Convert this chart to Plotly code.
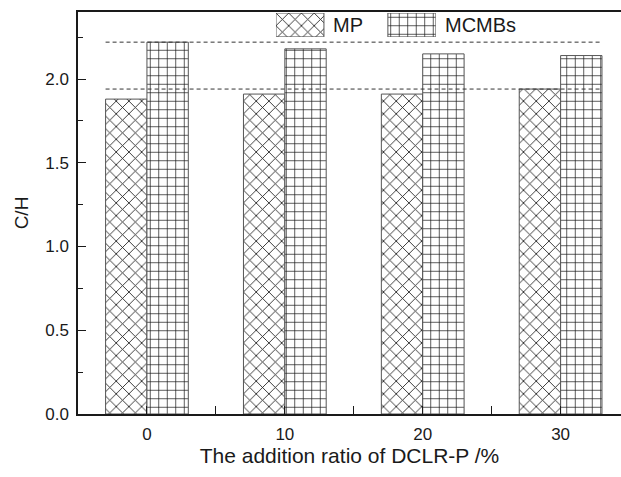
import plotly.graph_objects as go

# DCLR-P addition ratio (%) and C/H atomic ratios
ratios = [0, 10, 20, 30]
mp_ch = [1.88, 1.91, 1.91, 1.94]
mcmb_ch = [2.22, 2.18, 2.15, 2.14]
series_names = ["MP", "MCMBs"]

FONT = "Liberation Sans, Arial, sans-serif"
INK = "#1a1a1a"
EDGE = "#555555"
BAR_W = 0.3

pos = list(range(len(ratios)))

mp_pattern = dict(shape="x", size=9, solidity=0.18, fgcolor=INK, bgcolor="white", fillmode="replace")
mcmb_pattern = dict(shape="+", size=8.5, solidity=0.16, fgcolor=INK, bgcolor="white", fillmode="replace")

fig = go.Figure()
fig.add_trace(go.Bar(x=pos, y=mp_ch, name=series_names[0], width=BAR_W, offset=-BAR_W,
                     marker=dict(color="white", pattern=mp_pattern, line=dict(color=EDGE, width=1)),
                     showlegend=False))
fig.add_trace(go.Bar(x=pos, y=mcmb_ch, name=series_names[1], width=BAR_W, offset=0,
                     marker=dict(color="white", pattern=mcmb_pattern, line=dict(color=EDGE, width=1)),
                     showlegend=False))

# legend swatches on a small overlay axis
fig.add_trace(go.Bar(x=[0], y=[1], width=1, xaxis="x2", yaxis="y2", showlegend=False, hoverinfo="skip",
                     marker=dict(color="white", pattern=mp_pattern, line=dict(color=EDGE, width=1))))
fig.add_trace(go.Bar(x=[2.333], y=[1], width=1, xaxis="x2", yaxis="y2", showlegend=False, hoverinfo="skip",
                     marker=dict(color="white", pattern=mcmb_pattern, line=dict(color=EDGE, width=1))))

# dashed reference lines at the maximum of each series
x_left = pos[0] - BAR_W
x_right = pos[-1] + BAR_W
for level in (max(mcmb_ch), max(mp_ch)):
    fig.add_shape(type="line", xref="x", yref="y", x0=x_left, x1=x_right, y0=level, y1=level,
                  line=dict(color="#333333", width=1, dash="4px,3px"), layer="above")

fig.add_annotation(x=0.466, y=0.968, xref="paper", yref="paper", text=series_names[0], showarrow=False,
                   xanchor="left", yanchor="middle", font=dict(family=FONT, size=20, color=INK))
fig.add_annotation(x=0.672, y=0.968, xref="paper", yref="paper", text=series_names[1], showarrow=False,
                   xanchor="left", yanchor="middle", font=dict(family=FONT, size=20, color=INK))

fig.update_layout(
    width=621, height=477,
    margin=dict(l=78, r=0, t=12, b=63),
    paper_bgcolor="white", plot_bgcolor="white",
    font=dict(family=FONT, size=17, color=INK),
    showlegend=False,
    xaxis=dict(
        range=[-0.5, 3.438], tickvals=pos, ticktext=[str(r) for r in ratios],
        ticks="inside", ticklen=8, tickwidth=1, tickcolor=INK,
        minor=dict(tickvals=[0.5, 1.5, 2.5], ticks="inside", ticklen=8, tickcolor=INK),
        showline=True, linecolor=INK, linewidth=1.5, mirror=True,
        showgrid=False, zeroline=False,
        tickfont=dict(size=17), ticklabelstandoff=4,
        title=dict(text="The addition ratio of DCLR-P /%", font=dict(size=21), standoff=5),
    ),
    yaxis=dict(
        range=[0, 2.4], tickvals=[0, 0.5, 1.0, 1.5, 2.0], ticktext=["0.0", "0.5", "1.0", "1.5", "2.0"],
        ticks="inside", ticklen=8, tickwidth=1, tickcolor=INK,
        minor=dict(dtick=0.25, tick0=0, ticks="inside", ticklen=5, tickcolor=INK),
        showline=True, linecolor=INK, linewidth=1.5, mirror=False,
        showgrid=False, zeroline=False,
        tickfont=dict(size=17), ticklabelstandoff=4,
        title=dict(text="C/H", font=dict(size=19), standoff=12),
    ),
    xaxis2=dict(domain=[0.3646, 0.659], range=[-0.5, 2.833], anchor="y2", visible=False, fixedrange=True),
    yaxis2=dict(domain=[0.938, 0.9975], range=[0, 1], anchor="x2", visible=False, fixedrange=True),
)

fig.write_html("out.html")
